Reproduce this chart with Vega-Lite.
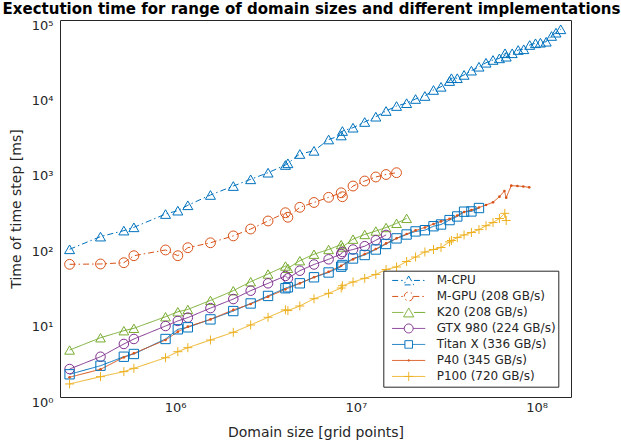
{
 "$schema": "https://vega.github.io/schema/vega-lite/v6.json",
 "width": 511, "height": 377,
 "autosize": {"type": "none"},
 "padding": {"left": 60, "top": 20, "right": 50, "bottom": 51},
 "background": "white",
 "title": {"text": "Exectution time for range of domain sizes and different implementations", "fontSize": 15, "fontWeight": "bold", "font": "DejaVu Sans", "color": "#000000", "anchor": "middle", "offset": 2, "dx": -4},
 "config": {"view": {"stroke": null}, "font": "DejaVu Sans"},
 "datasets": {"d": [
  {"s":"M-CPU","x":261000,"y":91},{"s":"M-CPU","x":387000,"y":134},{"s":"M-CPU","x":521000,"y":161},{"s":"M-CPU","x":592000,"y":178},{"s":"M-CPU","x":886000,"y":267},{"s":"M-CPU","x":1036000,"y":296},{"s":"M-CPU","x":1177000,"y":349},{"s":"M-CPU","x":1570000,"y":478},{"s":"M-CPU","x":2100000,"y":628},{"s":"M-CPU","x":2620000,"y":771},{"s":"M-CPU","x":3270000,"y":944},{"s":"M-CPU","x":4080000,"y":1194},{"s":"M-CPU","x":4210000,"y":1257},{"s":"M-CPU","x":4900000,"y":1670},{"s":"M-CPU","x":5870000,"y":1840},{"s":"M-CPU","x":7070000,"y":2600},{"s":"M-CPU","x":8300000,"y":2940},{"s":"M-CPU","x":8430000,"y":3370},{"s":"M-CPU","x":9650000,"y":3730},{"s":"M-CPU","x":11200000,"y":4440},{"s":"M-CPU","x":12900000,"y":5220},{"s":"M-CPU","x":14700000,"y":6210},{"s":"M-CPU","x":16800000,"y":7230},{"s":"M-CPU","x":19100000,"y":7890},{"s":"M-CPU","x":21400000,"y":8960},{"s":"M-CPU","x":24100000,"y":9820},{"s":"M-CPU","x":26900000,"y":11800},{"s":"M-CPU","x":29600000,"y":13000},{"s":"M-CPU","x":33000000,"y":15500},{"s":"M-CPU","x":33800000,"y":16900},{"s":"M-CPU","x":36400000,"y":16900},{"s":"M-CPU","x":39700000,"y":18700},{"s":"M-CPU","x":43600000,"y":21300},{"s":"M-CPU","x":48000000,"y":24000},{"s":"M-CPU","x":52500000,"y":27100},{"s":"M-CPU","x":57400000,"y":29500},{"s":"M-CPU","x":62300000,"y":31000},{"s":"M-CPU","x":66900000,"y":36200},{"s":"M-CPU","x":67900000,"y":32600},{"s":"M-CPU","x":73300000,"y":36200},{"s":"M-CPU","x":79100000,"y":40000},{"s":"M-CPU","x":84900000,"y":40900},{"s":"M-CPU","x":91600000,"y":46600},{"s":"M-CPU","x":98600000,"y":49100},{"s":"M-CPU","x":105000000,"y":50000},{"s":"M-CPU","x":113000000,"y":51500},{"s":"M-CPU","x":121000000,"y":61400},{"s":"M-CPU","x":128000000,"y":67900},{"s":"M-CPU","x":136000000,"y":75300},
  {"s":"M-GPU (208 GB/s)","x":261000,"y":57.5},{"s":"M-GPU (208 GB/s)","x":387000,"y":58.1},{"s":"M-GPU (208 GB/s)","x":521000,"y":60.4},{"s":"M-GPU (208 GB/s)","x":592000,"y":74.8},{"s":"M-GPU (208 GB/s)","x":886000,"y":89.1},{"s":"M-GPU (208 GB/s)","x":1036000,"y":74.8},{"s":"M-GPU (208 GB/s)","x":1177000,"y":95.5},{"s":"M-GPU (208 GB/s)","x":1570000,"y":111},{"s":"M-GPU (208 GB/s)","x":2100000,"y":137},{"s":"M-GPU (208 GB/s)","x":2620000,"y":169},{"s":"M-GPU (208 GB/s)","x":3270000,"y":216},{"s":"M-GPU (208 GB/s)","x":4080000,"y":278},{"s":"M-GPU (208 GB/s)","x":4210000,"y":242},{"s":"M-GPU (208 GB/s)","x":4900000,"y":328},{"s":"M-GPU (208 GB/s)","x":5870000,"y":380},{"s":"M-GPU (208 GB/s)","x":7070000,"y":445},{"s":"M-GPU (208 GB/s)","x":8300000,"y":511},{"s":"M-GPU (208 GB/s)","x":8430000,"y":453},{"s":"M-GPU (208 GB/s)","x":9650000,"y":628},{"s":"M-GPU (208 GB/s)","x":11200000,"y":732},{"s":"M-GPU (208 GB/s)","x":12900000,"y":828},{"s":"M-GPU (208 GB/s)","x":14700000,"y":893},{"s":"M-GPU (208 GB/s)","x":16800000,"y":944},
  {"s":"K20 (208 GB/s)","x":261000,"y":4.2},{"s":"K20 (208 GB/s)","x":387000,"y":6.11},{"s":"K20 (208 GB/s)","x":521000,"y":7.57},{"s":"K20 (208 GB/s)","x":592000,"y":8.15},{"s":"K20 (208 GB/s)","x":886000,"y":11.6},{"s":"K20 (208 GB/s)","x":1036000,"y":13.5},{"s":"K20 (208 GB/s)","x":1177000,"y":14.5},{"s":"K20 (208 GB/s)","x":1570000,"y":19.1},{"s":"K20 (208 GB/s)","x":2100000,"y":25.7},{"s":"K20 (208 GB/s)","x":2620000,"y":33.8},{"s":"K20 (208 GB/s)","x":3270000,"y":42.8},{"s":"K20 (208 GB/s)","x":4080000,"y":54.6},{"s":"K20 (208 GB/s)","x":4210000,"y":50.9},{"s":"K20 (208 GB/s)","x":4900000,"y":64.2},{"s":"K20 (208 GB/s)","x":5870000,"y":78.3},{"s":"K20 (208 GB/s)","x":7070000,"y":90.4},{"s":"K20 (208 GB/s)","x":8300000,"y":105},{"s":"K20 (208 GB/s)","x":8430000,"y":97.6},{"s":"K20 (208 GB/s)","x":9650000,"y":124},{"s":"K20 (208 GB/s)","x":11200000,"y":143},{"s":"K20 (208 GB/s)","x":12900000,"y":159},{"s":"K20 (208 GB/s)","x":14700000,"y":177},{"s":"K20 (208 GB/s)","x":16800000,"y":201},{"s":"K20 (208 GB/s)","x":19100000,"y":234},
  {"s":"GTX 980 (224 GB/s)","x":261000,"y":2.35},{"s":"GTX 980 (224 GB/s)","x":387000,"y":3.42},{"s":"GTX 980 (224 GB/s)","x":521000,"y":5.05},{"s":"GTX 980 (224 GB/s)","x":592000,"y":5.88},{"s":"GTX 980 (224 GB/s)","x":886000,"y":8.74},{"s":"GTX 980 (224 GB/s)","x":1036000,"y":10.2},{"s":"GTX 980 (224 GB/s)","x":1177000,"y":11.3},{"s":"GTX 980 (224 GB/s)","x":1570000,"y":15.1},{"s":"GTX 980 (224 GB/s)","x":2100000,"y":19.9},{"s":"GTX 980 (224 GB/s)","x":2620000,"y":25.7},{"s":"GTX 980 (224 GB/s)","x":3270000,"y":32.2},{"s":"GTX 980 (224 GB/s)","x":4080000,"y":40.3},{"s":"GTX 980 (224 GB/s)","x":4210000,"y":37.5},{"s":"GTX 980 (224 GB/s)","x":4900000,"y":47.3},{"s":"GTX 980 (224 GB/s)","x":5870000,"y":57.2},{"s":"GTX 980 (224 GB/s)","x":7070000,"y":67},{"s":"GTX 980 (224 GB/s)","x":8300000,"y":78.8},{"s":"GTX 980 (224 GB/s)","x":8430000,"y":83.8},{"s":"GTX 980 (224 GB/s)","x":9650000,"y":90.4},{"s":"GTX 980 (224 GB/s)","x":11200000,"y":100},{"s":"GTX 980 (224 GB/s)","x":12900000,"y":120},{"s":"GTX 980 (224 GB/s)","x":14700000,"y":141},
  {"s":"Titan X (336 GB/s)","x":261000,"y":2.0},{"s":"Titan X (336 GB/s)","x":387000,"y":2.6},{"s":"Titan X (336 GB/s)","x":521000,"y":3.42},{"s":"Titan X (336 GB/s)","x":592000,"y":3.72},{"s":"Titan X (336 GB/s)","x":886000,"y":5.88},{"s":"Titan X (336 GB/s)","x":1036000,"y":7.9},{"s":"Titan X (336 GB/s)","x":1177000,"y":8.4},{"s":"Titan X (336 GB/s)","x":1570000,"y":10.7},{"s":"Titan X (336 GB/s)","x":2100000,"y":13.8},{"s":"Titan X (336 GB/s)","x":2620000,"y":17.4},{"s":"Titan X (336 GB/s)","x":3270000,"y":21.9},{"s":"Titan X (336 GB/s)","x":4080000,"y":27.7},{"s":"Titan X (336 GB/s)","x":4210000,"y":28.5},{"s":"Titan X (336 GB/s)","x":4900000,"y":32.2},{"s":"Titan X (336 GB/s)","x":5870000,"y":38.7},{"s":"Titan X (336 GB/s)","x":7070000,"y":44.8},{"s":"Titan X (336 GB/s)","x":8300000,"y":53.5},{"s":"Titan X (336 GB/s)","x":8430000,"y":56.3},{"s":"Titan X (336 GB/s)","x":9650000,"y":68.7},{"s":"Titan X (336 GB/s)","x":11200000,"y":76.4},{"s":"Titan X (336 GB/s)","x":12900000,"y":90.4},{"s":"Titan X (336 GB/s)","x":14700000,"y":107},{"s":"Titan X (336 GB/s)","x":16800000,"y":127},{"s":"Titan X (336 GB/s)","x":19100000,"y":143},{"s":"Titan X (336 GB/s)","x":21400000,"y":157},{"s":"Titan X (336 GB/s)","x":24100000,"y":163},{"s":"Titan X (336 GB/s)","x":26900000,"y":184},{"s":"Titan X (336 GB/s)","x":29600000,"y":194},{"s":"Titan X (336 GB/s)","x":33000000,"y":222},{"s":"Titan X (336 GB/s)","x":36400000,"y":248},{"s":"Titan X (336 GB/s)","x":39700000,"y":287},{"s":"Titan X (336 GB/s)","x":43600000,"y":289},{"s":"Titan X (336 GB/s)","x":48000000,"y":321},
  {"s":"P40 (345 GB/s)","x":261000,"y":1.83},{"s":"P40 (345 GB/s)","x":387000,"y":2.33},{"s":"P40 (345 GB/s)","x":521000,"y":3.36},{"s":"P40 (345 GB/s)","x":592000,"y":3.8},{"s":"P40 (345 GB/s)","x":886000,"y":5.7},{"s":"P40 (345 GB/s)","x":1036000,"y":7.35},{"s":"P40 (345 GB/s)","x":1177000,"y":8.56},{"s":"P40 (345 GB/s)","x":1570000,"y":10.7},{"s":"P40 (345 GB/s)","x":2100000,"y":14.3},{"s":"P40 (345 GB/s)","x":2620000,"y":17.1},{"s":"P40 (345 GB/s)","x":3270000,"y":21.4},{"s":"P40 (345 GB/s)","x":4080000,"y":26.8},{"s":"P40 (345 GB/s)","x":4900000,"y":32.2},{"s":"P40 (345 GB/s)","x":5870000,"y":38.7},{"s":"P40 (345 GB/s)","x":7070000,"y":45.9},{"s":"P40 (345 GB/s)","x":8300000,"y":55.1},{"s":"P40 (345 GB/s)","x":9650000,"y":67},{"s":"P40 (345 GB/s)","x":11200000,"y":78.8},{"s":"P40 (345 GB/s)","x":12900000,"y":91.8},{"s":"P40 (345 GB/s)","x":14700000,"y":109},{"s":"P40 (345 GB/s)","x":16800000,"y":127},{"s":"P40 (345 GB/s)","x":19100000,"y":145},{"s":"P40 (345 GB/s)","x":21400000,"y":162},{"s":"P40 (345 GB/s)","x":24100000,"y":177},{"s":"P40 (345 GB/s)","x":26900000,"y":197},{"s":"P40 (345 GB/s)","x":29600000,"y":213},{"s":"P40 (345 GB/s)","x":33000000,"y":230},{"s":"P40 (345 GB/s)","x":36400000,"y":255},{"s":"P40 (345 GB/s)","x":39700000,"y":284},{"s":"P40 (345 GB/s)","x":43600000,"y":302},{"s":"P40 (345 GB/s)","x":48000000,"y":326},{"s":"P40 (345 GB/s)","x":52500000,"y":352},{"s":"P40 (345 GB/s)","x":57400000,"y":382},{"s":"P40 (345 GB/s)","x":62300000,"y":454},{"s":"P40 (345 GB/s)","x":66400000,"y":540},{"s":"P40 (345 GB/s)","x":67900000,"y":440},{"s":"P40 (345 GB/s)","x":72400000,"y":635},{"s":"P40 (345 GB/s)","x":78300000,"y":629},{"s":"P40 (345 GB/s)","x":84400000,"y":619},{"s":"P40 (345 GB/s)","x":91000000,"y":604},
  {"s":"P100 (720 GB/s)","x":261000,"y":1.49},{"s":"P100 (720 GB/s)","x":387000,"y":1.86},{"s":"P100 (720 GB/s)","x":521000,"y":2.17},{"s":"P100 (720 GB/s)","x":592000,"y":2.4},{"s":"P100 (720 GB/s)","x":886000,"y":3.32},{"s":"P100 (720 GB/s)","x":1036000,"y":3.99},{"s":"P100 (720 GB/s)","x":1177000,"y":4.51},{"s":"P100 (720 GB/s)","x":1570000,"y":5.7},{"s":"P100 (720 GB/s)","x":2100000,"y":7.21},{"s":"P100 (720 GB/s)","x":2620000,"y":9.02},{"s":"P100 (720 GB/s)","x":3270000,"y":11.4},{"s":"P100 (720 GB/s)","x":4080000,"y":14.3},{"s":"P100 (720 GB/s)","x":4210000,"y":14.0},{"s":"P100 (720 GB/s)","x":4900000,"y":16.1},{"s":"P100 (720 GB/s)","x":5870000,"y":20.1},{"s":"P100 (720 GB/s)","x":7070000,"y":23.7},{"s":"P100 (720 GB/s)","x":8300000,"y":27.9},{"s":"P100 (720 GB/s)","x":8430000,"y":29.9},{"s":"P100 (720 GB/s)","x":9650000,"y":33.5},{"s":"P100 (720 GB/s)","x":11200000,"y":37.5},{"s":"P100 (720 GB/s)","x":12900000,"y":42.2},{"s":"P100 (720 GB/s)","x":14700000,"y":49.1},{"s":"P100 (720 GB/s)","x":16800000,"y":53},{"s":"P100 (720 GB/s)","x":19100000,"y":62.7},{"s":"P100 (720 GB/s)","x":21400000,"y":71.9},{"s":"P100 (720 GB/s)","x":24100000,"y":83.8},{"s":"P100 (720 GB/s)","x":26900000,"y":90.4},{"s":"P100 (720 GB/s)","x":29600000,"y":96.1},{"s":"P100 (720 GB/s)","x":33000000,"y":114},{"s":"P100 (720 GB/s)","x":33800000,"y":119},{"s":"P100 (720 GB/s)","x":36400000,"y":130},{"s":"P100 (720 GB/s)","x":39700000,"y":141},{"s":"P100 (720 GB/s)","x":43600000,"y":152},{"s":"P100 (720 GB/s)","x":48000000,"y":166},{"s":"P100 (720 GB/s)","x":52500000,"y":187},{"s":"P100 (720 GB/s)","x":57400000,"y":206},{"s":"P100 (720 GB/s)","x":62300000,"y":233},{"s":"P100 (720 GB/s)","x":66700000,"y":273},{"s":"P100 (720 GB/s)","x":67900000,"y":219}
 ]},
 "data": {"name": "d"},
 "layer": [
  {
   "mark": {"type": "line", "strokeWidth": 1},
   "encoding": {
    "x": {"field": "x", "type": "quantitative", "scale": {"type": "log", "domain": [231000, 155000000], "nice": false},
     "axis": {"orient": "bottom", "values": [300000,400000,500000,600000,700000,800000,900000,1000000,2000000,3000000,4000000,5000000,6000000,7000000,8000000,9000000,10000000,20000000,30000000,40000000,50000000,60000000,70000000,80000000,90000000,100000000],
      "labelExpr": "abs(log(datum.value)/LN10 - round(log(datum.value)/LN10)) < 0.001 ? '10' + ['⁰','¹','²','³','⁴','⁵','⁶','⁷','⁸'][round(log(datum.value)/LN10)] : ''",
      "tickSize": 0, "encode": {"ticks": {"update": {"y2": {"signal": "abs(log(datum.value)/LN10 - round(log(datum.value)/LN10)) < 0.001 ? -6 : -3.5"}}}},
      "domainColor": "#262626", "tickColor": "#262626", "labelColor": "#262626", "labelFontSize": 13, "labelPadding": 4, "labelOverlap": false, "labelFlush": false, "grid": false,
      "title": "Domain size [grid points]", "titleFontSize": 14, "titleFontWeight": "normal", "titleColor": "#262626", "titlePadding": 11}},
    "y": {"field": "y", "type": "quantitative", "scale": {"type": "log", "domain": [1, 100000], "nice": false},
     "axis": {"orient": "left", "values": [1,2,3,4,5,6,7,8,9,10,20,30,40,50,60,70,80,90,100,200,300,400,500,600,700,800,900,1000,2000,3000,4000,5000,6000,7000,8000,9000,10000,20000,30000,40000,50000,60000,70000,80000,90000,100000],
      "labelExpr": "abs(log(datum.value)/LN10 - round(log(datum.value)/LN10)) < 0.001 ? '10' + ['⁰','¹','²','³','⁴','⁵','⁶','⁷','⁸'][round(log(datum.value)/LN10)] : ''",
      "tickSize": 0, "encode": {"ticks": {"update": {"x2": {"signal": "abs(log(datum.value)/LN10 - round(log(datum.value)/LN10)) < 0.001 ? 6 : 3.5"}}}},
      "domainColor": "#262626", "tickColor": "#262626", "labelColor": "#262626", "labelFontSize": 13, "labelPadding": 7, "labelOffset": 5, "labelOverlap": false, "labelFlush": false, "grid": false,
      "title": "Time of time step [ms]", "titleFontSize": 14, "titleFontWeight": "normal", "titleColor": "#262626", "titlePadding": 8}},
    "color": {"field": "s", "type": "nominal",
     "scale": {"domain": ["M-CPU","M-GPU (208 GB/s)","K20 (208 GB/s)","GTX 980 (224 GB/s)","Titan X (336 GB/s)","P40 (345 GB/s)","P100 (720 GB/s)"], "range": ["#0072BD","#D95319","#77AC30","#7E2F8E","#0072BD","#D95319","#EDB120"]},
     "legend": null},
    "strokeDash": {"field": "s", "type": "nominal",
     "scale": {"domain": ["M-CPU","M-GPU (208 GB/s)","K20 (208 GB/s)","GTX 980 (224 GB/s)","Titan X (336 GB/s)","P40 (345 GB/s)","P100 (720 GB/s)"], "range": [[6,3,1.5,3],[6,3,1.5,3],[1,0],[1,0],[1,0],[1,0],[1,0]]},
     "legend": null}
   }
  },
  {
   "transform": [{"filter": "datum.s != 'P40 (345 GB/s)'"}],
   "mark": {"type": "point", "filled": false, "strokeWidth": 1, "opacity": 1},
   "encoding": {
    "x": {"field": "x", "type": "quantitative", "scale": {"type": "log", "domain": [231000, 155000000], "nice": false},
     "axis": {"orient": "top", "values": [300000,400000,500000,600000,700000,800000,900000,1000000,2000000,3000000,4000000,5000000,6000000,7000000,8000000,9000000,10000000,20000000,30000000,40000000,50000000,60000000,70000000,80000000,90000000,100000000],
      "labels": false, "title": null, "grid": false, "tickSize": 0, "domainColor": "#262626", "tickColor": "#262626",
      "encode": {"ticks": {"update": {"y2": {"signal": "abs(log(datum.value)/LN10 - round(log(datum.value)/LN10)) < 0.001 ? 6 : 3.5"}}}}}},
    "y": {"field": "y", "type": "quantitative", "scale": {"type": "log", "domain": [1, 100000], "nice": false},
     "axis": {"orient": "right", "values": [1,2,3,4,5,6,7,8,9,10,20,30,40,50,60,70,80,90,100,200,300,400,500,600,700,800,900,1000,2000,3000,4000,5000,6000,7000,8000,9000,10000,20000,30000,40000,50000,60000,70000,80000,90000,100000],
      "labels": false, "title": null, "grid": false, "tickSize": 0, "domainColor": "#262626", "tickColor": "#262626",
      "encode": {"ticks": {"update": {"x2": {"signal": "abs(log(datum.value)/LN10 - round(log(datum.value)/LN10)) < 0.001 ? -6 : -3.5"}}}}}},
    "color": {"field": "s", "type": "nominal",
     "scale": {"domain": ["M-CPU","M-GPU (208 GB/s)","K20 (208 GB/s)","GTX 980 (224 GB/s)","Titan X (336 GB/s)","P40 (345 GB/s)","P100 (720 GB/s)"], "range": ["#0072BD","#D95319","#77AC30","#7E2F8E","#0072BD","#D95319","#EDB120"]},
     "legend": null},
    "shape": {"field": "s", "type": "nominal",
     "scale": {"domain": ["M-CPU","M-GPU (208 GB/s)","K20 (208 GB/s)","GTX 980 (224 GB/s)","Titan X (336 GB/s)","P40 (345 GB/s)","P100 (720 GB/s)"], "range": ["triangle-up","circle","triangle-up","circle","square","circle","M-1,0H1M0,-1V1"]},
     "legend": null},
    "size": {"field": "s", "type": "nominal",
     "scale": {"domain": ["M-CPU","M-GPU (208 GB/s)","K20 (208 GB/s)","GTX 980 (224 GB/s)","Titan X (336 GB/s)","P40 (345 GB/s)","P100 (720 GB/s)"], "range": [100, 81, 100, 81, 56, 81, 81]},
     "legend": null}
   }
  },
  {
   "transform": [{"filter": "datum.s == 'P40 (345 GB/s)'"}],
   "mark": {"type": "point", "filled": true, "size": 7, "opacity": 1},
   "encoding": {
    "x": {"field": "x", "type": "quantitative", "axis": null},
    "y": {"field": "y", "type": "quantitative", "axis": null},
    "color": {"field": "s", "type": "nominal",
     "scale": {"domain": ["M-CPU","M-GPU (208 GB/s)","K20 (208 GB/s)","GTX 980 (224 GB/s)","Titan X (336 GB/s)","P40 (345 GB/s)","P100 (720 GB/s)"], "range": ["#0072BD","#D95319","#77AC30","#7E2F8E","#0072BD","#D95319","#EDB120"]},
     "legend": null}
   }
  },
  {
   "transform": [{"filter": "false"}],
   "mark": {"type": "point", "filled": false, "strokeWidth": 1, "size": 1089, "opacity": 1},
   "encoding": {
    "x": {"field": "x", "type": "quantitative", "axis": null},
    "y": {"field": "y", "type": "quantitative", "axis": null},
    "color": {"field": "s", "type": "nominal",
     "scale": {"domain": ["M-CPU","M-GPU (208 GB/s)","K20 (208 GB/s)","GTX 980 (224 GB/s)","Titan X (336 GB/s)","P40 (345 GB/s)","P100 (720 GB/s)"], "range": ["#0072BD","#D95319","#77AC30","#7E2F8E","#0072BD","#D95319","#EDB120"]},
     "legend": {"orient": "none", "legendX": 323.3, "legendY": 250.7, "title": null, "strokeColor": "#262626", "fillColor": "white", "padding": 2, "clipHeight": 15.5, "rowPadding": 0, "symbolSize": 1089, "symbolStrokeWidth": 1, "symbolOffset": 6.4, "labelOffset": 11, "labelFontSize": 12, "labelColor": "#262626", "labelFont": "DejaVu Sans", "labelLimit": 0}},
    "shape": {"field": "s", "type": "nominal",
     "scale": {"domain": ["M-CPU","M-GPU (208 GB/s)","K20 (208 GB/s)","GTX 980 (224 GB/s)","Titan X (336 GB/s)","P40 (345 GB/s)","P100 (720 GB/s)"],
      "range": ["M-1,0H-0.32M0.32,0H1M0,-0.27L0.31,0.27L-0.31,0.27Z","M-1,0H-0.28M0.28,0H1M0.27,0A0.27,0.27,0,1,1,-0.27,0A0.27,0.27,0,1,1,0.27,0Z","M-1,0H-0.32M0.32,0H1M0,-0.27L0.31,0.27L-0.31,0.27Z","M-1,0H-0.28M0.28,0H1M0.27,0A0.27,0.27,0,1,1,-0.27,0A0.27,0.27,0,1,1,0.27,0Z","M-1,0H-0.23M0.23,0H1M-0.23,-0.23H0.23V0.23H-0.23Z","M-1,0H1M0.05,0A0.05,0.05,0,1,1,-0.05,0A0.05,0.05,0,1,1,0.05,0Z","M-1,0H1M-0.28,0H0.28M0,-0.28V0.28"]},
     "legend": {"orient": "none", "legendX": 323.3, "legendY": 250.7, "title": null, "strokeColor": "#262626", "fillColor": "white", "padding": 2, "clipHeight": 15.5, "rowPadding": 0, "symbolSize": 1089, "symbolStrokeWidth": 1, "symbolOffset": 6.4, "labelOffset": 11, "labelFontSize": 12, "labelColor": "#262626", "labelFont": "DejaVu Sans", "labelLimit": 0}},
    "strokeDash": {"field": "s", "type": "nominal",
     "scale": {"domain": ["M-CPU","M-GPU (208 GB/s)","K20 (208 GB/s)","GTX 980 (224 GB/s)","Titan X (336 GB/s)","P40 (345 GB/s)","P100 (720 GB/s)"], "range": [[6,3,1.5,3],[6,3,1.5,3],[1,0],[1,0],[1,0],[1,0],[1,0]]},
     "legend": {"orient": "none", "legendX": 323.3, "legendY": 250.7, "title": null, "strokeColor": "#262626", "fillColor": "white", "padding": 2, "clipHeight": 15.5, "rowPadding": 0, "symbolSize": 1089, "symbolStrokeWidth": 1, "symbolOffset": 6.4, "labelOffset": 11, "labelFontSize": 12, "labelColor": "#262626", "labelFont": "DejaVu Sans", "labelLimit": 0}}
   }
  }
 ],
 "resolve": {"axis": {"x": "independent", "y": "independent"}, "scale": {"shape": "independent", "color": "independent", "strokeDash": "independent"}}
}
